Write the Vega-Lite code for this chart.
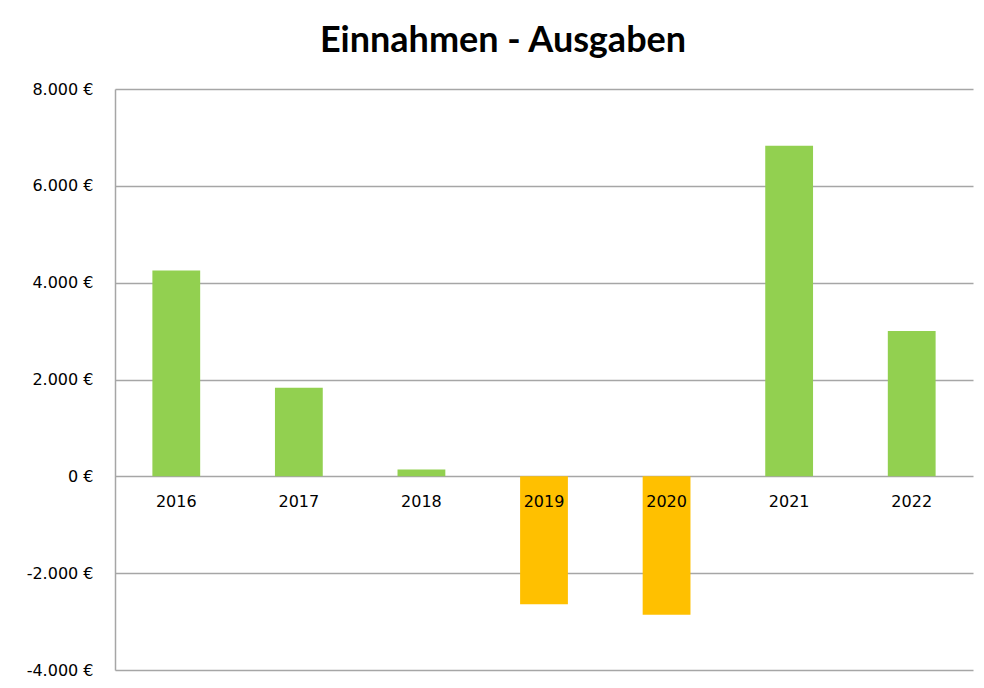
{
  "$schema": "https://vega.github.io/schema/vega-lite/v6.json",
  "autosize": {"type": "none"},
  "width": 858,
  "height": 581,
  "padding": {"left": 115, "top": 89, "right": 11, "bottom": 18},
  "background": "white",
  "title": {
    "text": "Einnahmen - Ausgaben",
    "font": "Lato",
    "fontSize": 36,
    "fontWeight": "bold",
    "color": "#000000",
    "anchor": "middle",
    "baseline": "alphabetic",
    "offset": -7,
    "dx": -41
  },
  "config": {
    "view": {"stroke": null},
    "locale": {
      "number": {"decimal": ",", "thousands": ".", "grouping": [3], "currency": ["", " €"], "minus": "-"}
    }
  },
  "data": {
    "values": [
      {"jahr": "2016", "wert": 4250},
      {"jahr": "2017", "wert": 1830},
      {"jahr": "2018", "wert": 140},
      {"jahr": "2019", "wert": -2640},
      {"jahr": "2020", "wert": -2860},
      {"jahr": "2021", "wert": 6830},
      {"jahr": "2022", "wert": 3000}
    ]
  },
  "encoding": {
    "x": {
      "field": "jahr",
      "type": "nominal",
      "sort": null,
      "axis": null,
      "scale": {"paddingInner": 0.61, "paddingOuter": 0.305}
    }
  },
  "layer": [
    {
      "mark": {"type": "bar", "cornerRadius": 0},
      "encoding": {
        "y": {
          "field": "wert",
          "type": "quantitative",
          "scale": {"domain": [-4000, 8000], "nice": false},
          "axis": {
            "title": null,
            "values": [-4000, -2000, 0, 2000, 4000, 6000, 8000],
            "format": "$,.0f",
            "ticks": false,
            "domain": true,
            "domainColor": "#a6a6a6",
            "domainWidth": 1.5,
            "grid": true,
            "gridColor": "#a6a6a6",
            "gridWidth": 1.5,
            "labelFont": "DejaVu Sans",
            "labelFontSize": 16,
            "labelColor": "#000000",
            "labelPadding": 22
          }
        },
        "color": {
          "condition": {"test": "datum.wert < 0", "value": "#FFC000"},
          "value": "#92D050"
        }
      }
    },
    {
      "mark": {
        "type": "text",
        "baseline": "middle",
        "align": "center",
        "dy": 26,
        "font": "DejaVu Sans",
        "fontSize": 16,
        "color": "#000000"
      },
      "encoding": {
        "y": {"datum": 0, "type": "quantitative"},
        "text": {"field": "jahr"}
      }
    }
  ]
}
